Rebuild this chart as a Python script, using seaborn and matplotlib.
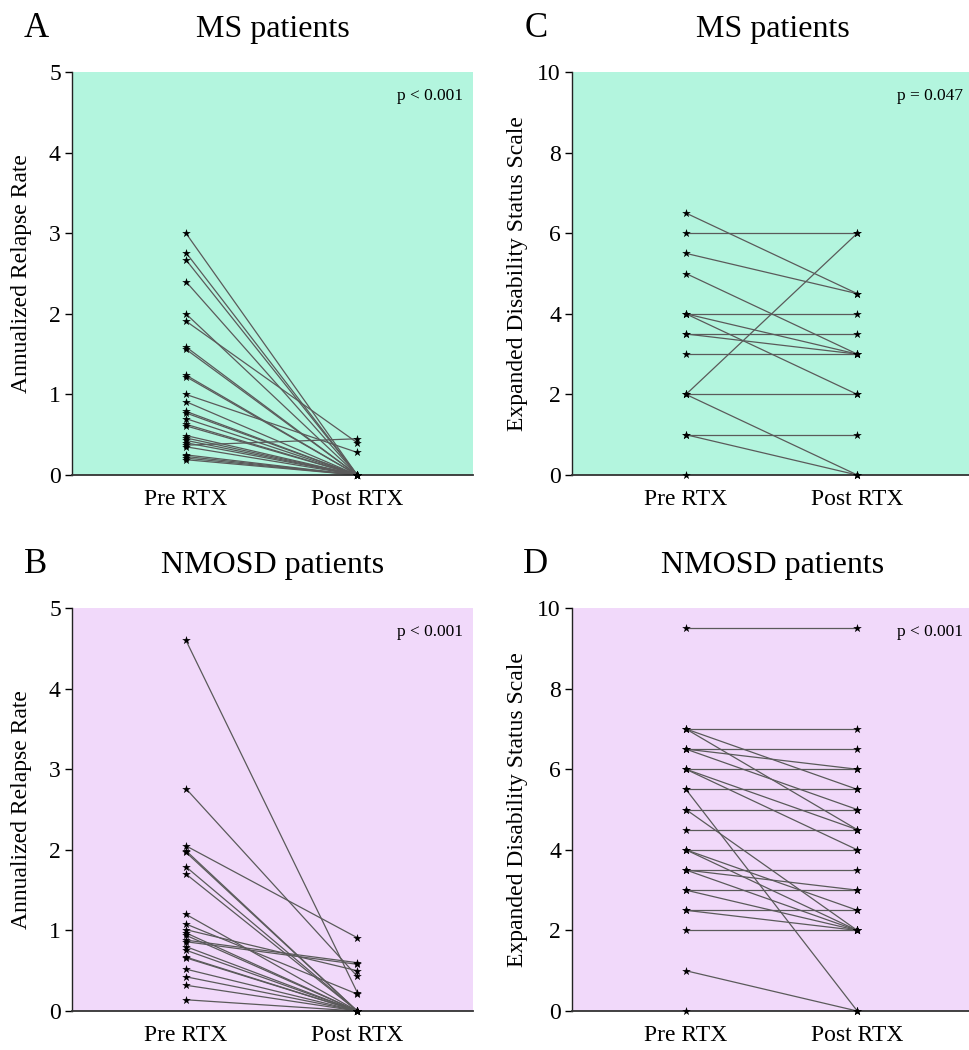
import seaborn as sns
import matplotlib.pyplot as plt
import pandas as pd

# annualized relapse rate, MS
ms_arr_pre = [3.00, 2.76, 2.67, 2.40, 2.00, 1.91, 1.59, 1.56, 1.24, 1.22, 1.00, 0.91, 0.79, 0.77,
              0.70, 0.63, 0.61, 0.49, 0.46, 0.43, 0.40, 0.37, 0.35, 0.25, 0.23, 0.21, 0.19]
ms_arr_post = [0, 0, 0, 0, 0, 0.40, 0, 0, 0, 0, 0.28, 0, 0, 0,
               0, 0, 0, 0, 0, 0, 0, 0.45, 0, 0, 0, 0, 0]

# annualized relapse rate, NMOSD
nmo_arr_pre = [4.60, 2.76, 2.05, 1.99, 1.97, 1.79, 1.70, 1.20, 1.08, 1.01, 0.97,
               0.94, 0.88, 0.86, 0.80, 0.755, 0.67, 0.66, 0.52, 0.425, 0.32, 0.14]
nmo_arr_post = [0.23, 0.43, 0.91, 0, 0, 0, 0, 0, 0.21, 0.50, 0,
                0, 0.60, 0.58, 0, 0, 0, 0, 0, 0, 0, 0]

# EDSS, MS
ms_edss_pre = [6.5, 6.0, 5.5, 5.0, 4.0, 4.0, 4.0, 3.5, 3.5, 3.0, 2.0, 2.0, 2.0, 1.0, 1.0, 0.0]
ms_edss_post = [4.5, 6.0, 4.5, 3.0, 4.0, 3.0, 2.0, 3.5, 3.0, 3.0, 6.0, 2.0, 0.0, 1.0, 0.0, 0.0]

# EDSS, NMOSD
nmo_edss_pre = [9.5, 7.0, 7.0, 7.0, 6.5, 6.5, 6.5, 6.0, 6.0, 6.0, 5.5, 5.5, 5.0, 5.0,
                4.5, 4.0, 4.0, 4.0, 3.5, 3.5, 3.5, 3.0, 3.0, 2.5, 2.5, 2.0, 1.0, 0.0]
nmo_edss_post = [9.5, 7.0, 5.5, 4.5, 6.5, 6.0, 5.0, 6.0, 4.5, 4.0, 5.5, 0.0, 5.0, 2.0,
                 4.5, 4.0, 2.5, 2.0, 3.5, 3.0, 2.0, 3.0, 2.0, 2.5, 2.0, 2.0, 0.0, 0.0]

times = ["Pre RTX", "Post RTX"]
green = "#B3F5DE"
pink = "#F1D9FA"

sns.set_style("ticks")
plt.rcParams["font.family"] = ["Liberation Serif", "DejaVu Serif"]
plt.rcParams["text.color"] = "black"
plt.rcParams["axes.labelcolor"] = "black"
plt.rcParams["xtick.color"] = "black"
plt.rcParams["ytick.color"] = "black"


def to_long(pre, post):
    n = len(pre)
    return pd.DataFrame({
        "patient": list(range(n)) * 2,
        "time": [times[0]] * n + [times[1]] * n,
        "value": list(pre) + list(post),
    })


def panel(ax, pre, post, bg, letter, title, ylabel, ymax, step, ptext, lab_x):
    df = to_long(pre, post)
    ax.set_facecolor(bg)
    sns.lineplot(data=df, x="time", y="value", units="patient", estimator=None,
                 color="#5a5a5a", lw=0.9, ax=ax, legend=False)
    sns.stripplot(data=df, x="time", y="value", order=times, jitter=False,
                  marker="*", size=6.5, color="black", ax=ax, zorder=3)
    for coll in ax.collections:
        coll.set_clip_on(False)
    ax.set_xlim(-0.665, 1.675)
    ax.set_ylim(0, ymax)
    ax.set_yticks(range(0, ymax + 1, step))
    ax.set_xlabel("")
    ax.set_ylabel(ylabel, fontsize=17)
    ax.yaxis.set_label_coords(lab_x, 0.5)
    ax.tick_params(axis="y", direction="out", length=5, width=1, labelsize=17, pad=3)
    ax.tick_params(axis="x", length=0, labelsize=17, pad=10)
    for s in ["top", "right"]:
        ax.spines[s].set_visible(False)
    ax.spines["left"].set_linewidth(1)
    ax.spines["left"].set_color("#222222")
    ax.spines["bottom"].set_linewidth(1.3)
    ax.spines["bottom"].set_color("#333333")
    ax.set_title(title, fontsize=23, pad=25)
    ax.text(-0.09, 1.088, letter, transform=ax.transAxes, fontsize=25,
            ha="center", va="baseline")
    ax.text(0.975, 0.93, ptext, transform=ax.transAxes, fontsize=12.5,
            ha="right", va="baseline")


fig = plt.figure(figsize=(9.7, 10.5), dpi=100)
w, h = 0.4134, 0.3838
axA = fig.add_axes([0.0742, 0.5476, w, h])
axC = fig.add_axes([0.5897, 0.5476, w, h])
axB = fig.add_axes([0.0742, 0.0371, w, h])
axD = fig.add_axes([0.5897, 0.0371, w, h])

panel(axA, ms_arr_pre, ms_arr_post, green, "A", "MS patients",
      "Annualized Relapse Rate", 5, 1, "p < 0.001", -0.10)
panel(axC, ms_edss_pre, ms_edss_post, green, "C", "MS patients",
      "Expanded Disability Status Scale", 10, 2, "p = 0.047", -0.11)
panel(axB, nmo_arr_pre, nmo_arr_post, pink, "B", "NMOSD patients",
      "Annualized Relapse Rate", 5, 1, "p < 0.001", -0.10)
panel(axD, nmo_edss_pre, nmo_edss_post, pink, "D", "NMOSD patients",
      "Expanded Disability Status Scale", 10, 2, "p < 0.001", -0.11)

fig.savefig("out.png", dpi=100)
